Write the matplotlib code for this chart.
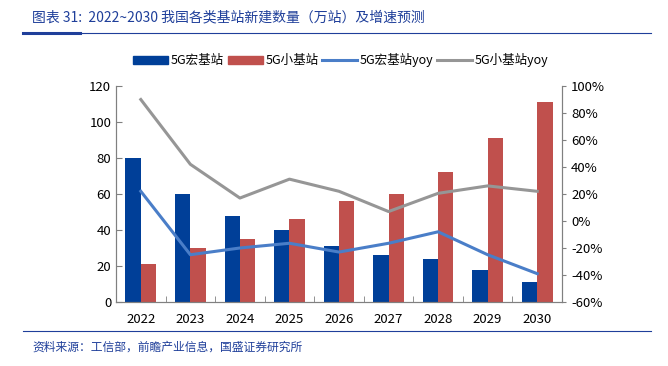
import matplotlib
matplotlib.use("Agg")
import matplotlib.pyplot as plt
import numpy as np
from matplotlib.lines import Line2D
from matplotlib.patches import Patch

plt.rcParams['font.family'] = ['Noto Sans CJK SC', 'DejaVu Sans']

years = ['2022', '2023', '2024', '2025', '2026', '2027', '2028', '2029', '2030']
macro = [80, 60, 48, 40, 31, 26, 24, 18, 11]
small = [21, 30, 35, 46, 56, 60, 72, 91, 111]
macro_yoy = [22, -25, -20, -16.5, -23, -16.5, -8, -25, -39]
small_yoy = [90, 42, 17, 31, 22, 7, 20.5, 26, 22]

c_macro = '#003F98'
c_small = '#C0504D'
c_macro_l = '#4A7EC8'
c_small_l = '#969696'
c_text_blue = '#1F3F9A'
c_axis = '#808080'

fig = plt.figure(figsize=(6.68, 3.66), dpi=100)
ax = fig.add_axes([0.1737, 0.1749, 0.6676, 0.5901])
ax2 = ax.twinx()

x = np.arange(len(years))
w = 0.31
ax.bar(x - 0.155, macro, w, color=c_macro, zorder=2)
ax.bar(x + 0.155, small, w, color=c_small, zorder=2)
ax2.plot(x, macro_yoy, color=c_macro_l, lw=2.2, zorder=3)
ax2.plot(x, small_yoy, color=c_small_l, lw=2.2, zorder=3)

ax.set_xlim(-0.5, len(years) - 0.5)
ax.set_ylim(0, 120)
ax.set_yticks(range(0, 121, 20))
ax2.set_ylim(-60, 100)
ax2.set_yticks(range(-60, 101, 20))
ax2.set_yticklabels([f'{v}%' for v in range(-60, 101, 20)])
ax.set_xticks(x)
ax.set_xticklabels(years)
ax.set_xticks(np.arange(-0.5, len(years), 1), minor=True)

for a in (ax, ax2):
    a.spines['top'].set_visible(False)
    for s in ('left', 'right', 'bottom'):
        a.spines[s].set_color(c_axis)
ax.tick_params(axis='x', which='major', length=0, labelsize=9.5, pad=8)
ax.tick_params(axis='x', which='minor', length=4, direction='in', color=c_axis)
ax.tick_params(axis='y', length=4, direction='in', color=c_axis, labelsize=9.5)
ax2.tick_params(axis='y', length=3, direction='out', color=c_axis, labelsize=9.5)

handles = [
    Patch(color=c_macro, label='5G宏基站'),
    Patch(color=c_small, label='5G小基站'),
    Line2D([], [], color=c_macro_l, lw=2.2, label='5G宏基站yoy'),
    Line2D([], [], color=c_small_l, lw=2.2, label='5G小基站yoy'),
]
fig.legend(handles=handles, loc='center', bbox_to_anchor=(0.51, 0.835), ncol=4,
           frameon=False, fontsize=9, handlelength=2.8, handleheight=0.7,
           handletextpad=0.2, columnspacing=0.3)

# title and source
fig.text(0.048, 0.952, '图表 31:  2022~2030 我国各类基站新建数量（万站）及增速预测',
         color=c_text_blue, fontsize=10, fontstyle='italic', va='center')
fig.add_artist(Line2D([0.034, 0.975], [0.909, 0.909], color=c_text_blue, lw=0.8))
fig.add_artist(Line2D([0.034, 0.12], [0.909, 0.909], color=c_text_blue, lw=2.2))
fig.add_artist(Line2D([0.034, 0.975], [0.096, 0.096], color=c_text_blue, lw=0.8))
fig.text(0.048, 0.052, '资料来源：工信部，前瞻产业信息，国盛证券研究所',
         color=c_text_blue, fontsize=8.5, fontstyle='italic', va='center')

fig.savefig('out.png', dpi=100)
